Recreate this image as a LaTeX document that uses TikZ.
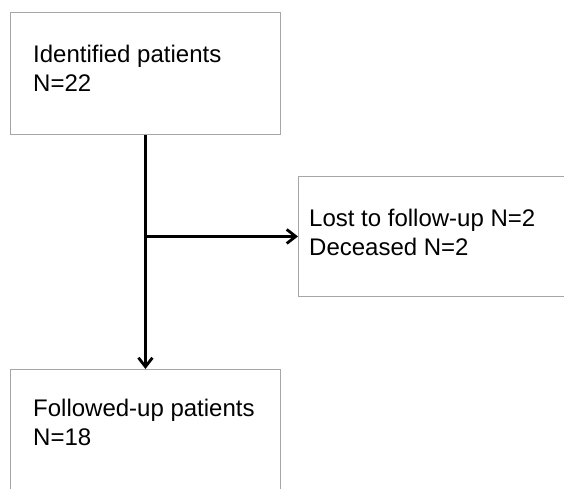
\documentclass[tikz,border=0pt]{standalone}
\usepackage{fontspec}
\setmainfont{Liberation Sans}
\usepackage{tikz}
\usetikzlibrary{positioning}
\usetikzlibrary{arrows.meta}
\tikzstyle{flowbox}=[rectangle,draw=gray!70,line width=0.9pt,anchor=north west,inner sep=0pt]
\tikzstyle{flowtxt}=[align=left,inner sep=0pt,font=\fontsize{24}{29}\selectfont]
\tikzstyle{flowarrow}=[line width=2.8pt,-{Straight Barb[length=9pt,width=14pt]}]

\begin{document}
\begin{tikzpicture}[x=1pt,y=-1pt]

				\useasboundingbox (0,0) rectangle (564,488);
				\clip (0,0) rectangle (564,488);

				\node [flowbox, minimum width=270pt, minimum height=122pt] (ident) at (10,12) {};
				\node [flowtxt, below right = 33pt and 23pt of ident.north west] (identtxt) {Identified patients\\N=22};

				\node [flowbox, minimum width=280pt, minimum height=120pt] (lost) at (298,176) {};
				\node [flowtxt, below right = 33pt and 11pt of lost.north west] (losttxt) {Lost to follow-up N=2\\Deceased N=2};

				\node [flowbox, minimum width=270pt, minimum height=140pt] (follow) at (10,369) {};
				\node [flowtxt, below right = 30pt and 23pt of follow.north west] (followtxt) {Followed-up patients\\N=18};

				\coordinate (branch) at (ident.south |- lost.west);

				\draw[flowarrow] (ident.south) -- (follow.north);
				\draw[flowarrow] (branch) -- (lost.west);

\end{tikzpicture}
\end{document}
